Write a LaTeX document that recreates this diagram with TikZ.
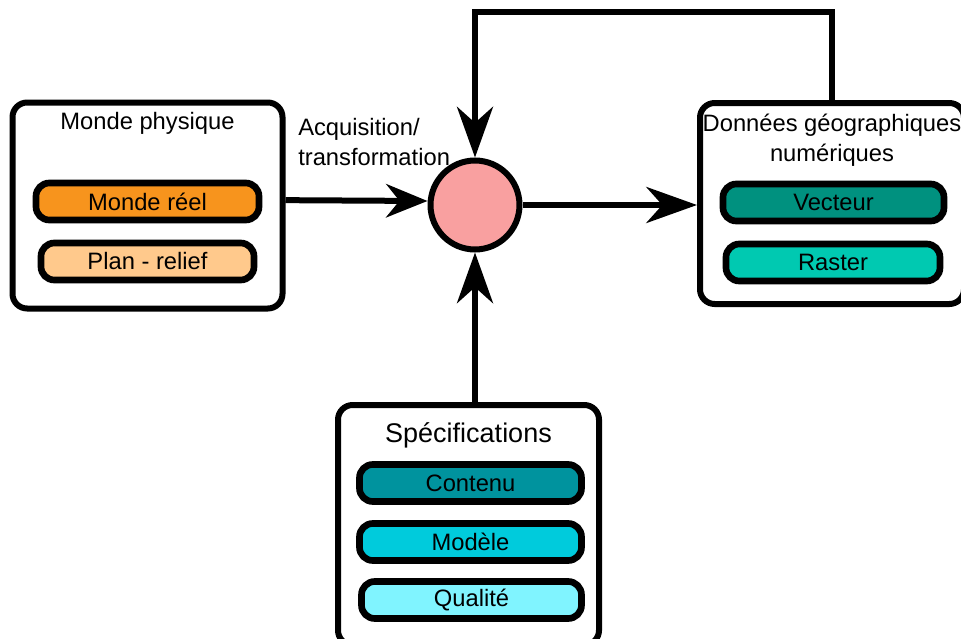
\documentclass[tikz,border=0pt]{standalone}
\usepackage{fontspec}
\setmainfont{Liberation Sans}
\usetikzlibrary{arrows.meta}
\definecolor{orangeA}{HTML}{F7941D}
\definecolor{orangeB}{HTML}{FFC98C}
\definecolor{pinkC}{HTML}{F9A0A0}
\definecolor{tealV}{HTML}{00917F}
\definecolor{tealR}{HTML}{00C9B1}
\definecolor{cyanC}{HTML}{00939E}
\definecolor{cyanM}{HTML}{00CBDC}
\definecolor{cyanQ}{HTML}{80F4FF}
\begin{document}
\begin{tikzpicture}[x=0.75pt,y=-0.75pt,
  font=\fontsize{17.8}{22.5}\selectfont,
  box/.style={draw, line width=4.5pt, rounded corners=11pt, fill=white, inner sep=0pt},
  pill/.style={draw, line width=5pt, rounded corners=10pt, minimum height=27.75pt, inner sep=0pt},
  arr/.style={line width=4.5pt, -{Stealth[length=38pt,width=27pt,inset=12pt]}},
  arrs/.style={line width=4.5pt, -{Stealth[length=31pt,width=25pt,inset=10pt]}}]
\useasboundingbox (0,0) rectangle (961,639);
% left box
\node[box, minimum width=202.5pt, minimum height=154.5pt] (lb) at (147.5,205.5) {};
\node (lbt) at (147.5,123) {Monde physique};
\node[pill, fill=orangeA, minimum width=167.25pt] (mr) at (147.5,201.5) {Monde réel};
\node[pill, fill=orangeB, minimum width=159.75pt] (pr) at (147.5,261.5) {Plan - relief};
% circle
\node[circle, draw, line width=4.5pt, fill=pinkC, minimum size=66.75pt, inner sep=0pt] (c) at (475,205) {};
% right box
\node[box, minimum width=198pt, minimum height=150.75pt] (rb) at (832,203.5) {};
\node[align=center] (rbt) at (832,140) {Données géographiques\\numériques};
\node[pill, fill=tealV, minimum width=165.75pt] (vec) at (833.5,202.5) {Vecteur};
\node[pill, fill=tealR, minimum width=160.5pt] (ras) at (833,262.5) {Raster};
% bottom box
\node[box, minimum width=195.75pt, minimum height=180pt] (bb) at (468.5,525) {};
\node[font=\fontsize{20.25}{24}\selectfont] (bbt) at (468.5,435) {Spécifications};
\node[pill, fill=cyanC, minimum width=166.5pt] (con) at (470.5,483) {Contenu};
\node[pill, fill=cyanM, minimum width=166.5pt] (mod) at (470.5,542) {Modèle};
\node[pill, fill=cyanQ, minimum width=165pt] (qua) at (471.5,600) {Qualité};
% label
\node[align=left, anchor=west, inner sep=0pt] (lab) at (298,142) {Acquisition/\\transformation};
% connectors
\draw[arrs] ([yshift=4pt]lb.east) -- ([yshift=3pt]c.west);
\draw[arr] (c.east) -- (c.east -| rb.west);
\draw[arr] (c.south |- bb.north) -- (c.south);
\draw[arr] (rb.north) -- ++(0,-88) -| (c.north);
\end{tikzpicture}
\end{document}
